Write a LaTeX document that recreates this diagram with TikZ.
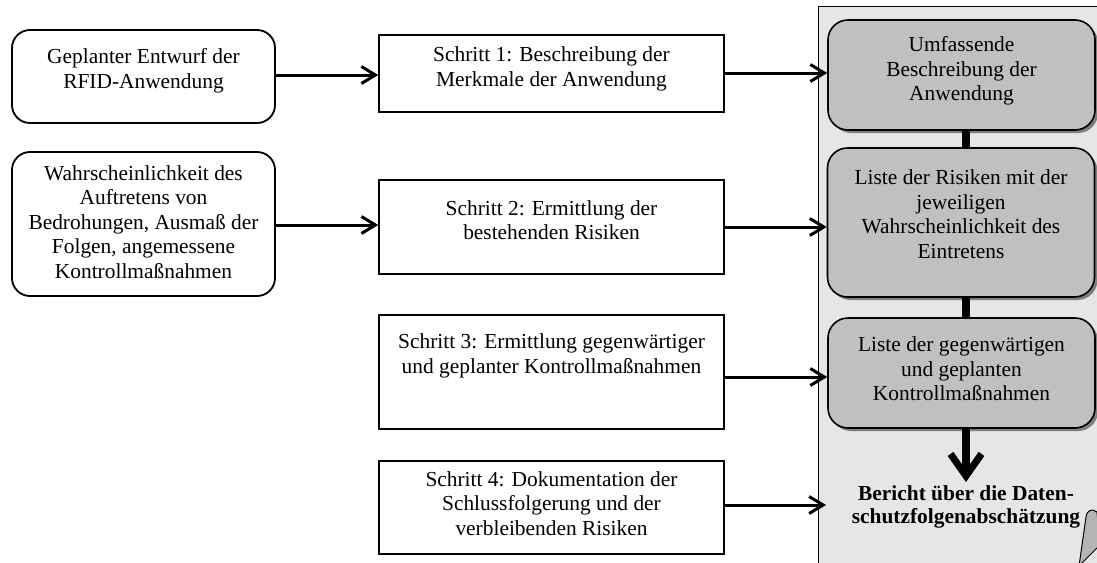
\documentclass[tikz,border=0pt]{standalone}
\usepackage{fontspec}
\setmainfont{Liberation Serif}
\usetikzlibrary{arrows.meta,shadows}
\definecolor{panelgray}{HTML}{E6E6E6}
\definecolor{boxgray}{HTML}{C0C0C0}
\definecolor{curlgray}{HTML}{B4B4B4}
\begin{document}
\begin{tikzpicture}[x=1pt,y=-1pt,
  txt/.style={font=\fontsize{21.4}{24.5}\selectfont, align=center, inner sep=0pt},
  inbox/.style={draw, line width=1.8pt, rounded corners=18pt, inner sep=0pt, minimum width=263pt},
  stepbox/.style={draw, line width=1.4pt, inner sep=0pt, minimum width=345pt},
  resbox/.style={draw, line width=1.6pt, fill=boxgray, rounded corners=20pt, inner sep=0pt, minimum width=267pt,
     drop shadow={shadow xshift=3pt, shadow yshift=-3pt, fill=black!55, opacity=0.9}},
  arr/.style={line width=3pt, -{Straight Barb[length=14pt, width=17pt, line width=3pt]}},
  thick link/.style={line width=8pt},
]
\useasboundingbox (0,0) rectangle (1097,562);
% right panel
\draw[fill=panelgray, line width=1pt] (818,6) rectangle (1110,575);
\draw[fill=curlgray, line width=1pt] (1079,566) -- (1086,517) .. controls (1087,510) and (1092,508) .. (1097,512) -- (1100,545) -- cycle;

% left inputs
\node[inbox, minimum height=93pt] (L1) at (143.5,76.5) {};
\node[txt] (L1t) at (143.5,71) {Geplanter Entwurf der\\RFID-Anwendung};
\node[inbox, minimum height=144pt] (L2) at (143.5,224) {};
\node[txt] (L2t) at (143.5,222) {Wahrscheinlichkeit des\\Auftretens von\\Bedrohungen, Ausmaß der\\Folgen, angemessene\\Kontrollmaßnahmen};

% steps
\node[stepbox, minimum height=77pt] (M1) at (551.5,73.5) {};
\node[txt] (M1t) at (551.5,69) {Schritt 1: Beschreibung der\\Merkmale der Anwendung};
\node[stepbox, minimum height=94pt] (M2) at (551.5,227) {};
\node[txt] (M2t) at (551.5,220) {Schritt 2: Ermittlung der\\bestehenden Risiken};
\node[stepbox, minimum height=114pt] (M3) at (551.5,372) {};
\node[txt] (M3t) at (551.5,356) {Schritt 3: Ermittlung gegenwärtiger\\und geplanter Kontrollmaßnahmen};
\node[stepbox, minimum height=93pt] (M4) at (551.5,507.5) {};
\node[txt] (M4t) at (551.5,503.5) {Schritt 4: Dokumentation der\\Schlussfolgerung und der\\verbleibenden Risiken};

% results
\node[resbox, minimum height=110pt] (A) at (961.5,75) {};
\node[txt] (At) at (961.5,71) {Umfassende\\Beschreibung der\\Anwendung};
\node[resbox, minimum height=149pt] (B) at (961,222.5) {};
\node[txt] (Bt) at (961,214) {Liste der Risiken mit der\\jeweiligen\\Wahrscheinlichkeit des\\Eintretens};
\node[resbox, minimum height=110pt] (C) at (961.5,373) {};
\node[txt] (Ct) at (961.5,369) {Liste der gegenwärtigen\\und geplanten\\Kontrollmaßnahmen};
\node[txt, font=\fontsize{21.4}{23}\selectfont\bfseries] (R) at (966,507) {Bericht über die Daten-\\schutzfolgenabschätzung};
\coordinate (Rin) at (826,505);
\coordinate (Cend) at (966,482);

% links in the panel
\draw[thick link] (A.south -| 966,0) -- (B.north -| 966,0);
\draw[thick link] (B.south -| 966,0) -- (C.north -| 966,0);
\draw[line width=8pt, -{Straight Barb[length=22pt, width=31pt, line width=7pt]}] (C.south -| 966,0) -- (Cend);

% arrows
\draw[arr] (L1.east |- 0,75) -- (M1.west |- 0,75);
\draw[arr] (L2.east |- 0,225) -- (M2.west |- 0,225);
\draw[arr] (M1.east |- 0,73) -- (A.west |- 0,73);
\draw[arr] (M2.east |- 0,227) -- (B.west |- 0,227);
\draw[arr] (M3.east |- 0,377) -- (C.west |- 0,377);
\draw[arr] (M4.east |- 0,505) -- (Rin);
\end{tikzpicture}
\end{document}
